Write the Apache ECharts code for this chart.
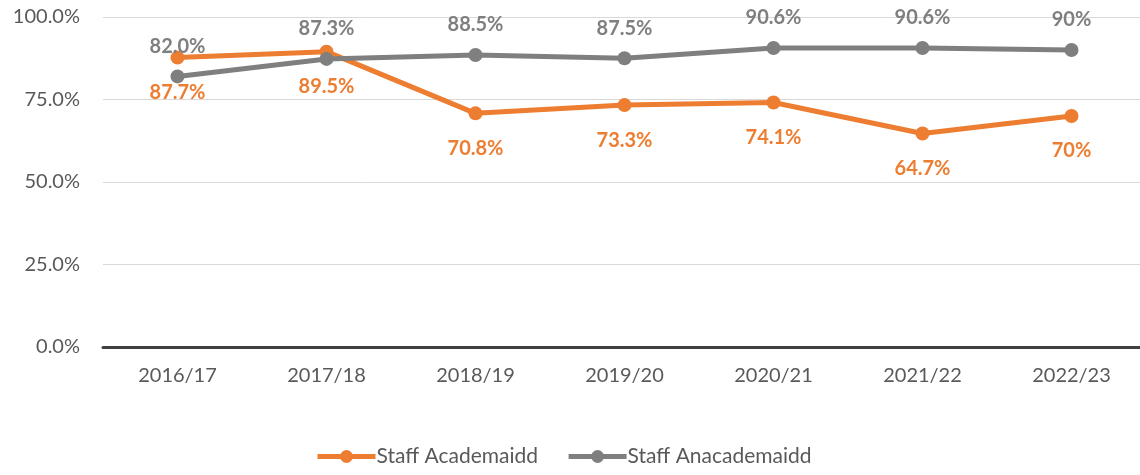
<!DOCTYPE html>
<html>
<head>
<meta charset="utf-8">
<script src="https://cdn.jsdelivr.net/npm/echarts@6/dist/echarts.min.js"></script>
<style>
  html, body { margin: 0; padding: 0; background: #fff; }
  #chart { width: 1140px; height: 475px; }
</style>
</head>
<body>
<div id="chart"></div>
<script>
const categories = ['2016/17', '2017/18', '2018/19', '2019/20', '2020/21', '2021/22', '2022/23']
const academicValues = [87.7, 89.5, 70.8, 73.3, 74.1, 64.7, 70]
const academicLabels = ['87.7%', '89.5%', '70.8%', '73.3%', '74.1%', '64.7%', '70%']
const nonAcademicValues = [82.0, 87.3, 88.5, 87.5, 90.6, 90.6, 90]
const nonAcademicLabels = ['82.0%', '87.3%', '88.5%', '87.5%', '90.6%', '90.6%', '90%']
const yTicks = [0, 25, 50, 75, 100]

const font = 'Lato, "Open Sans", sans-serif'

const chart = echarts.init(document.getElementById('chart'))

const option = {
  animation: false,
  grid: {
    left: 103,
    top: 17,
    width: 1043,
    height: 330,
    outerBoundsMode: 'none'
  },
  legend: {
    bottom: 8,
    left: 315,
    padding: 0,
    itemWidth: 58,
    itemHeight: 16,
    itemGap: 28,
    lineStyle: { width: 5 },
    textStyle: { fontFamily: font, fontSize: 21, color: '#595959', padding: [0, 0, 0, -4] },
    data: ['Staff Academaidd', 'Staff Anacademaidd']
  },
  xAxis: {
    type: 'category',
    data: categories,
    axisTick: { show: false },
    axisLine: { lineStyle: { color: '#404040', width: 3 } },
    axisLabel: { fontFamily: font, fontSize: 20, color: '#595959', margin: 19 }
  },
  yAxis: {
    type: 'value',
    min: 0,
    max: 100,
    interval: 25,
    axisLine: { show: false },
    axisTick: { show: false },
    splitLine: { lineStyle: { color: '#D9D9D9', width: 1 } },
    axisLabel: {
      fontFamily: font,
      fontSize: 20,
      color: '#595959',
      margin: 23,
      formatter: v => yTicks.includes(v) ? v.toFixed(1) + '%' : ''
    }
  },
  series: [
    {
      name: 'Staff Academaidd',
      type: 'line',
      data: academicValues,
      symbol: 'circle',
      symbolSize: 14,
      itemStyle: { color: '#ED7D31' },
      lineStyle: { color: '#ED7D31', width: 5 },
      label: {
        show: true,
        position: 'bottom',
        distance: 18,
        fontFamily: font,
        fontSize: 20,
        fontWeight: 'bold',
        color: '#ED7D31',
        formatter: p => academicLabels[p.dataIndex]
      }
    },
    {
      name: 'Staff Anacademaidd',
      type: 'line',
      data: nonAcademicValues,
      symbol: 'circle',
      symbolSize: 14,
      itemStyle: { color: '#7F7F7F' },
      lineStyle: { color: '#7F7F7F', width: 5 },
      label: {
        show: true,
        position: 'top',
        distance: 13,
        fontFamily: font,
        fontSize: 20,
        fontWeight: 'bold',
        color: '#7F7F7F',
        formatter: p => nonAcademicLabels[p.dataIndex]
      }
    }
  ]
}

chart.setOption(option)
</script>
</body>
</html>
